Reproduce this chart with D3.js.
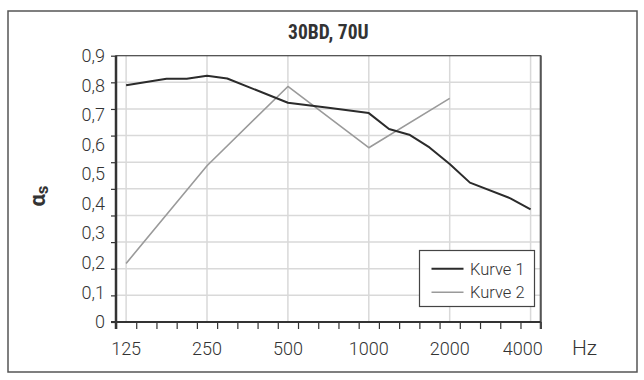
<!DOCTYPE html>
<html>
<head>
<meta charset="utf-8">
<script src="https://cdn.jsdelivr.net/npm/d3@7"></script>
<style>
body{margin:0;background:#fff}
text{font-family:Roboto,"Liberation Sans",sans-serif;fill:#333}
</style>
</head>
<body>
<svg id="chart" width="644" height="380"></svg>
<script>
// frequency bands, quarter octave steps, only full octaves get a label
var bands = ["125","149","177","210","250","297","354","420","500","595","707","841",
             "1000","1189","1414","1682","2000","2378","2828","3364","4000"];
var shownBands = ["125","250","500","1000","2000","4000"];

// absorption values, null = no point in that band
var kurve1 = [0.80,null,0.822,0.822,0.832,0.823,null,null,0.741,null,0.724,null,
              0.706,0.652,0.633,0.59,0.534,0.471,null,0.418,0.381];
var kurve2 = [0.198,null,null,null,0.528,null,null,null,0.796,null,null,null,
              0.589,null,null,null,0.756,null,null,null,null];

var seriesNames = ["Kurve 1","Kurve 2"];
var seriesColors = ["#2b2b2b","#9a9a9a"];
var yTicks = [0,0.1,0.2,0.3,0.4,0.5,0.6,0.7,0.8,0.9];
var title = "30BD, 70U";

var svg = d3.select("#chart");
var plot = {left:116, right:540.7, top:55.7, bottom:322};

var xScale = d3.scaleBand()
    .domain(bands)
    .range([plot.left, plot.right]);
var yScale = d3.scaleLinear()
    .domain([0,0.9])
    .range([plot.bottom, plot.top]);
// the printed grid has ten steps, not nine like the labels
var gridScale = d3.scaleLinear()
    .domain([0,10])
    .range([plot.bottom, plot.top]);
var edgeScale = d3.scaleLinear()
    .domain([0,bands.length])
    .range([plot.left, plot.right]);

var xMid = function(b){ return xScale(b) + xScale.bandwidth()/2; }

// outer frame
svg.append("rect")
    .attr("x",8).attr("y",11)
    .attr("width",629).attr("height",361)
    .attr("fill","none")
    .attr("stroke","#555")
    .attr("stroke-width",1.5);

// grid
svg.append("g")
    .selectAll("line")
    .data(d3.range(1,10))
    .enter()
    .append("line")
    .attr("x1",plot.left).attr("x2",plot.right)
    .attr("y1",function(d){ return gridScale(d); })
    .attr("y2",function(d){ return gridScale(d); })
    .attr("stroke","#d9d9d9")
    .attr("stroke-width",1.5);

svg.append("g")
    .selectAll("line")
    .data(shownBands)
    .enter()
    .append("line")
    .attr("x1",xMid).attr("x2",xMid)
    .attr("y1",plot.top).attr("y2",plot.bottom)
    .attr("stroke","#d9d9d9")
    .attr("stroke-width",1.5);

// plot border
svg.append("rect")
    .attr("x",plot.left).attr("y",plot.top)
    .attr("width",plot.right-plot.left)
    .attr("height",plot.bottom-plot.top)
    .attr("fill","none")
    .attr("stroke","#444")
    .attr("stroke-width",1.2);
svg.append("line")
    .attr("x1",plot.right).attr("x2",plot.right)
    .attr("y1",plot.top).attr("y2",plot.bottom+7)
    .attr("stroke","#555").attr("stroke-width",2);

// y axis: ticks on the grid, labels on their own scale
var yTickAxis = d3.axisLeft(gridScale)
    .tickValues(d3.range(0,11))
    .tickFormat("")
    .tickSize(5);
var gy = svg.append("g")
    .attr("transform","translate(" + plot.left + ",0)")
    .call(yTickAxis);
gy.select(".domain").remove();
gy.selectAll(".tick line").attr("stroke","#333").attr("stroke-width",1.2);

var yLabelAxis = d3.axisLeft(yScale)
    .tickValues(yTicks)
    .tickSize(0)
    .tickPadding(11)
    .tickFormat(function(d){ return d === 0 ? "0" : d3.format(".1f")(d).replace(".",","); });
var gyl = svg.append("g")
    .attr("transform","translate(" + plot.left + ",0)")
    .call(yLabelAxis);
gyl.select(".domain").remove();
gyl.selectAll("text")
    .style("font-family","Roboto,sans-serif")
    .style("font-weight","300")
    .style("font-size","18px")
    .attr("fill","#333");

svg.append("line")
    .attr("x1",plot.left).attr("x2",plot.left)
    .attr("y1",plot.top).attr("y2",plot.bottom+7)
    .attr("stroke","#333").attr("stroke-width",2.5);

// x axis: ticks between bands, labels on octaves
var xTickAxis = d3.axisBottom(edgeScale)
    .tickValues(d3.range(0,bands.length+1))
    .tickFormat("")
    .tickSize(7);
var gx = svg.append("g")
    .attr("transform","translate(0," + plot.bottom + ")")
    .call(xTickAxis);
gx.select(".domain").remove();
gx.selectAll(".tick line").attr("stroke","#333").attr("stroke-width",1.2);

svg.append("line")
    .attr("x1",plot.left-5).attr("x2",plot.right)
    .attr("y1",plot.bottom).attr("y2",plot.bottom)
    .attr("stroke","#333").attr("stroke-width",2);

var xLabelAxis = d3.axisBottom(xScale)
    .tickValues(shownBands)
    .tickSize(0)
    .tickPadding(20);
var gxl = svg.append("g")
    .attr("transform","translate(0," + plot.bottom + ")")
    .call(xLabelAxis);
gxl.select(".domain").remove();
gxl.selectAll("text")
    .style("font-family","Roboto,sans-serif")
    .style("font-weight","300")
    .style("font-size","18px")
    .attr("fill","#333");
// last label is pulled inside the plot edge
gxl.selectAll(".tick")
    .filter(function(d){ return d === bands[bands.length-1]; })
    .select("text")
    .attr("text-anchor","end")
    .attr("x", plot.right + 2 - xMid(bands[bands.length-1]));

svg.append("text")
    .attr("x",572).attr("y",355)
    .style("font-weight","300")
    .style("font-size","21px")
    .text("Hz");

// y axis title
var ylab = svg.append("text")
    .attr("transform","translate(45,196) rotate(-90)")
    .attr("text-anchor","middle")
    .style("font-weight","700")
    .style("font-size","22px");
ylab.append("tspan").text("α");
ylab.append("tspan").attr("dy",3).style("font-size","17px").text("s");

// title
svg.append("text")
    .attr("x",(plot.left+plot.right)/2)
    .attr("y",39)
    .attr("text-anchor","middle")
    .style("font-family","'Liberation Sans Narrow','Roboto Condensed',Roboto,sans-serif")
    .style("font-weight","700")
    .style("font-size","19.5px")
    .attr("fill","#222")
    .text(title);

// curves
var drawCurve = function(values, color, width)
{
    var pts = bands
        .map(function(b,i){ return {band:b, value:values[i]}; })
        .filter(function(p){ return p.value !== null; });
    var line = d3.line()
        .x(function(p){ return xMid(p.band); })
        .y(function(p){ return yScale(p.value); });
    svg.append("path")
        .datum(pts)
        .attr("d",line)
        .attr("fill","none")
        .attr("stroke",color)
        .attr("stroke-width",width)
        .attr("stroke-linejoin","round");
}
drawCurve(kurve2, seriesColors[1], 1.6);
drawCurve(kurve1, seriesColors[0], 2);

// legend
var legend = svg.append("g");
legend.append("rect")
    .attr("x",419.5).attr("y",250.5)
    .attr("width",115).attr("height",56)
    .attr("fill","#fff")
    .attr("stroke","#444")
    .attr("stroke-width",1.2);
var items = legend.selectAll("g.item")
    .data(seriesNames)
    .enter()
    .append("g")
    .attr("class","item")
    .attr("transform",function(d,i){ return "translate(0," + (268.7 + i*23.6) + ")"; });
items.append("line")
    .attr("x1",431.5).attr("x2",463.5)
    .attr("y1",0).attr("y2",0)
    .attr("stroke",function(d,i){ return seriesColors[i]; })
    .attr("stroke-width",function(d,i){ return i === 0 ? 2 : 1.6; });
items.append("text")
    .attr("x",470).attr("y",0)
    .attr("dy","0.36em")
    .style("font-weight","300")
    .style("font-size","16.5px")
    .text(function(d){ return d; });
</script>
</body>
</html>
